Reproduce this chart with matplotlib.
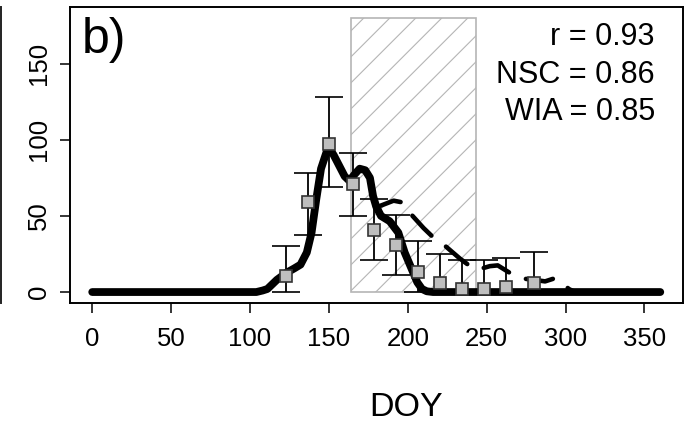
import numpy as np
import matplotlib
matplotlib.use("Agg")
from matplotlib import pyplot as plt
from matplotlib.patches import Rectangle
from matplotlib.lines import Line2D

plt.rcParams['font.family'] = ['Liberation Sans', 'DejaVu Sans']

# observed values (squares) with error bar limits
obs_doy = [123, 137, 150, 165, 178.5, 192.5, 206.5, 220.5, 234.5, 248, 262.5, 280]
obs_val = [10.5, 59, 97, 71, 41, 31, 13, 6, 2, 2, 3.5, 6]
obs_hi = [30, 78, 128, 91, 61, 50.5, 33.5, 25, 21, 21, 22.5, 26]
obs_lo = [0, 37.5, 69, 50, 21, 11, 0, 0, 0, 0, 0, 0]

# simulated series (thick solid)
sim_doy = [0, 104, 108, 111, 117, 123, 128, 132, 136, 139, 142, 145, 148.5, 150.5,
           153, 156, 160, 163, 166, 169.5, 173, 176, 178, 180, 183, 188.5, 194, 198,
           202.5, 206, 209, 212, 216, 360]
sim_val = [0, 0, 1, 2, 8, 12.6, 15.5, 18, 26, 39, 61, 81, 92, 94,
           90, 84, 76, 73, 77, 81, 80, 75, 63, 56, 50, 46.5, 39, 26,
           15, 6.4, 2, 0.5, 0, 0]

# second simulation (dashed), where it leaves the solid one
alt_doy = [179, 181, 186, 191, 196, 203, 210, 217, 224, 233, 242, 247, 252, 257,
           264, 272, 280, 287, 293, 297, 302, 306]
alt_val = [57, 56, 58, 60, 59, 50, 42, 35, 30, 22, 15, 15.5, 17, 17.5,
           13, 9, 8, 7, 9, 7, 2, 0]

# hatched period
period = (164, 243)
period_top = 180

stats = ["r = 0.93", "NSC = 0.86", "WIA = 0.85"]

W, H = 687, 424
fig = plt.figure(figsize=(W / 100, H / 100), dpi=100)
ax = fig.add_axes([69.5 / W, 121 / H, (683 - 69.5) / W, (303 - 7) / H])
xlim = (-14.4, 374.4)
ylim = (-7.2, 187.2)
ax.set_xlim(*xlim)
ax.set_ylim(*ylim)

# shaded (hatched) rectangle, hatch drawn at 45 deg in pixel space
rect = Rectangle((period[0], 0), period[1] - period[0], period_top,
                 facecolor='none', edgecolor='#b5b5b5', lw=1.2, zorder=1)
ax.add_patch(rect)
bb = ax.get_position()
px_x = bb.width * W / (xlim[1] - xlim[0])
px_y = bb.height * H / (ylim[1] - ylim[0])
step = 26 / px_x
run = period_top * px_y / px_x
x0 = 188.6 - run
for k in range(-20, 20):
    xs = x0 + k * step
    ln = Line2D([xs, xs + run], [0, period_top], color='#b5b5b5', lw=0.8, zorder=1)
    ax.add_line(ln)
    ln.set_clip_path(rect)

ax.plot(sim_doy, sim_val, color='black', lw=5.6, solid_capstyle='round',
        solid_joinstyle='round', zorder=3)
ax.plot(alt_doy, alt_val, color='black', lw=3.3, dashes=(6, 4),
        dash_capstyle='round', dash_joinstyle='round', zorder=3)

obs_val = np.array(obs_val)
yerr = [obs_val - np.array(obs_lo), np.array(obs_hi) - obs_val]
ax.errorbar(obs_doy, obs_val, yerr=yerr, fmt='s', ms=8.3, mfc='#bebebe',
            mec='#333333', mew=1.2, ecolor='black', elinewidth=1.3,
            capsize=10, capthick=1.3, zorder=4)

ax.set_xticks(range(0, 351, 50))
ax.set_yticks(range(0, 151, 50))
ax.tick_params(axis='both', length=7.5, width=1.1, labelsize=18.5, color='black')
ax.tick_params(axis='x', pad=10)
ax.tick_params(axis='y', pad=6)
for lab in ax.get_yticklabels():
    lab.set_rotation(90)
    lab.set_va('center')
for sp in ax.spines.values():
    sp.set_linewidth(1.4)

fig.text(82 / W, 1 - 53 / H, "b)", fontsize=36, ha='left', va='baseline')
for line, base in zip(stats, [45, 83, 120]):
    fig.text(655 / W, 1 - base / H, line, fontsize=22, ha='right', va='baseline')
fig.text(406 / W, 1 - 416 / H, "DOY", fontsize=24.5, ha='center', va='baseline')

# edge of the neighbouring panel
fig.add_artist(Line2D([1.2 / W, 1.2 / W], [1 - 7 / H, 1 - 303 / H], color='#222222', lw=1.4))

fig.savefig("out.png", dpi=100)
